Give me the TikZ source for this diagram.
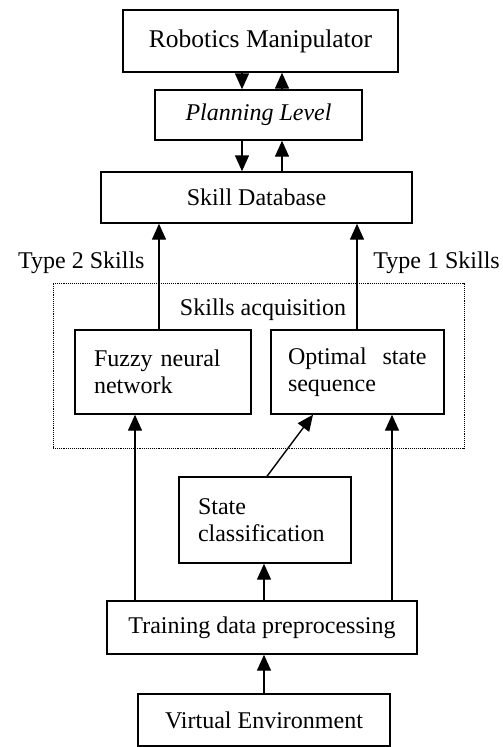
\documentclass[tikz,border=0pt]{standalone}
\usepackage{fontspec}
\setmainfont{Liberation Serif}
\usetikzlibrary{arrows.meta}
\begin{document}
\begin{tikzpicture}[x=1pt,y=-1pt,
  box/.style={draw, line width=1.4pt, inner sep=0pt, font=\fontsize{24}{26.5}\selectfont},
  lbox/.style={box, align=left},
  arr/.style={line width=1.4pt, -{Triangle[width=14pt,length=16pt]}},
  lbl/.style={font=\fontsize{24}{26.5}\selectfont, inner sep=0pt}]
\useasboundingbox (0,0) rectangle (503,747);
% boxes
\node[box, minimum width=275pt, minimum height=62pt, font=\fontsize{25.5}{28}\selectfont] (RM) at (260.5,41) {Robotics Manipulator};
\node[box, minimum width=207pt, minimum height=50pt, font=\fontsize{24}{26.5}\selectfont\itshape] (PL) at (258.5,115) {Planning Level};
\node[box, minimum width=311pt, minimum height=51pt] (SD) at (256.5,197.5) {Skill Database};
\node[draw, densely dotted, line width=0.9pt, minimum width=411pt, minimum height=165pt, inner sep=0pt] (SA) at (258.5,365.5) {};
\node[lbl] (SAT) at (263,310) {Skills acquisition};
\node[lbox, inner xsep=19pt, text width=138pt, minimum height=84pt] (FNN) at (163,372) {Fuzzy neural\\network};
\node[lbox, inner xsep=17pt, text width=139pt, minimum height=84pt] (OSS) at (357.5,372) {Optimal\ \ state\\sequence};
\node[lbox, inner xsep=19pt, text width=134pt, minimum height=86pt] (SC) at (265,520) {State\\classification};
\node[box, minimum width=310pt, minimum height=53pt] (TDP) at (262,627.5) {Training data preprocessing};
\node[box, minimum width=252pt, minimum height=52pt] (VE) at (264,720) {Virtual Environment};
\node[lbl, anchor=west] (T2) at (18,263) {Type 2 Skills};
\node[lbl, anchor=east] (T1) at (500,263) {Type 1 Skills};
% helper x positions
\coordinate (x1) at (242,0);
\coordinate (x2) at (282,0);
\coordinate (x3) at (159,0);
\coordinate (x4) at (357,0);
\coordinate (x5) at (135,0);
\coordinate (x6) at (392,0);
\coordinate (x7) at (267,0);
\coordinate (x8) at (313,0);
\coordinate (x9) at (264,0);
% connectors
\draw[arr] (RM.south -| x1) -- (PL.north -| x1);
\draw[arr] (PL.north -| x2) -- (RM.south -| x2);
\draw[arr] (PL.south -| x1) -- (SD.north -| x1);
\draw[arr] (SD.north -| x2) -- (PL.south -| x2);
\draw[arr] (FNN.north -| x3) -- (SD.south -| x3);
\draw[arr] (OSS.north -| x4) -- (SD.south -| x4);
\draw[arr] (TDP.north -| x5) -- (FNN.south -| x5);
\draw[arr] (TDP.north -| x6) -- (OSS.south -| x6);
\draw[arr] (SC.north -| x7) -- (OSS.south -| x8);
\draw[arr] (TDP.north -| x9) -- (SC.south -| x9);
\draw[arr] (VE.north -| x9) -- (TDP.south -| x9);
\end{tikzpicture}
\end{document}
